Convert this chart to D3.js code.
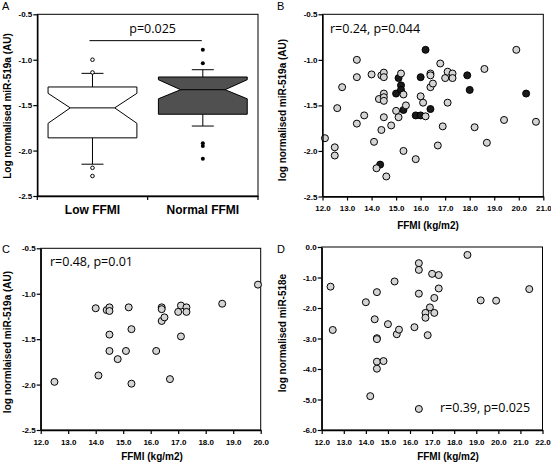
<!DOCTYPE html>
<html><head><meta charset="utf-8">
<script src="https://cdn.jsdelivr.net/npm/d3@7"></script>
<style>body{margin:0;background:#fff} svg{display:block}</style>
</head><body><svg id="c" width="551" height="463"></svg>
<script>
// ---------- Panel A data (box plot) ----------
const boxCategories = ["Low FFMI", "Normal FFMI"];
const boxQ3 = [-1.30, -1.19];
const boxQ1 = [-1.86, -1.60];
const boxMedian = [-1.53, -1.33];
const boxNotchHigh = [-1.37, -1.22];
const boxNotchLow = [-1.70, -1.43];
const boxWhiskerHigh = [-1.15, -1.11];
const boxWhiskerLow = [-2.15, -1.73];
const boxOutliersLow = [-1.00, -1.14, -2.19, -2.28];
const boxOutliersNormal = [-0.89, -1.04, -1.92, -1.95, -2.09];
const boxPText = "p=0.025";
const boxPLineValue = -0.79;
const ticks519 = [-0.5, -1.0, -1.5, -2.0, -2.5];

// ---------- Panel B data ----------
const bLightX = [12.1,12.5,12.5,12.6,12.8,13.4,13.4,13.4,13.7,14.0,14.1,14.2,14.3,14.4,14.4,14.5,14.5,14.5,14.5,14.5,14.5,14.6,14.8,15.0,15.1,15.2,15.3,15.4,15.3,15.8,16.0,16.1,16.2,16.4,16.4,16.4,16.5,16.8,16.9,16.7,17.0,17.1,17.1,17.3,17.3,18.2,18.6,18.7,19.4,19.9,20.7];
const bLightY = [-1.86,-1.96,-2.05,-1.53,-1.30,-1.00,-1.19,-1.70,-1.61,-1.16,-1.90,-2.19,-1.43,-1.17,-1.77,-1.14,-1.19,-1.37,-1.41,-1.45,-1.63,-2.28,-1.72,-1.56,-1.63,-1.15,-1.38,-1.50,-2.00,-2.09,-1.40,-1.47,-1.62,-1.15,-1.17,-1.30,-1.26,-1.04,-1.73,-1.94,-1.20,-1.13,-1.47,-1.15,-1.20,-1.74,-1.10,-1.91,-1.66,-0.89,-1.68];
const bDarkX = [14.35,15.0,15.1,15.2,15.2,15.3,15.8,16.0,16.0,16.2,16.4,17.9,18.0,20.3];
const bDarkY = [-2.15,-1.37,-1.20,-1.28,-1.33,-1.55,-1.61,-1.61,-1.19,-0.89,-1.54,-1.17,-1.33,-1.37];
const bXTicks = [12,13,14,15,16,17,18,19,20,21];
const bText = "r=0.24, p=0.044";

// ---------- Panel C data ----------
const cX = [12.5,14.0,14.4,14.5,14.5,14.5,14.5,14.1,14.8,15.1,15.2,15.3,15.3,16.2,16.4,16.4,16.4,16.5,16.7,17.0,17.1,17.3,17.3,17.1,18.6,19.9];
const cY = [-1.97,-1.16,-1.18,-1.15,-1.19,-1.45,-1.63,-1.90,-1.72,-1.63,-1.15,-1.39,-1.99,-1.63,-1.15,-1.17,-1.30,-1.26,-1.94,-1.20,-1.13,-1.15,-1.20,-1.47,-1.11,-0.90];
const cXTicks = [12,13,14,15,16,17,18,19,20];
const cText = "r=0.48, p=0.01";

// ---------- Panel D data ----------
const dX = [12.4,12.5,14.0,14.4,14.5,14.5,14.5,14.5,14.5,14.8,15.0,15.3,15.4,15.5,16.2,16.4,16.4,16.4,16.8,16.9,16.7,16.7,17.1,17.0,17.3,17.1,17.3,18.6,19.2,19.9,21.4,16.4,14.2];
const dY = [-1.30,-2.72,-1.81,-2.37,-1.48,-2.99,-3.02,-3.76,-3.99,-3.74,-2.53,-1.13,-2.86,-2.71,-2.63,-0.53,-0.75,-1.53,-2.89,-1.98,-2.16,-2.32,-2.16,-0.88,-0.92,-1.67,-1.36,-0.26,-1.75,-1.76,-1.38,-5.31,-4.89];
const dXTicks = [12,13,14,15,16,17,18,19,20,21,22];
const dYTicks = [0,-1,-2,-3,-4,-5,-6];
const dText = "r=0.39, p=0.025";

// ---------- Drawing ----------
const svg = d3.select("#c");
const BOLD = "'Liberation Sans', Arial, sans-serif";
const ANN = "'Open Sans', sans-serif";
const fmt = d => d.toFixed(1);

function frame(g, x0, x1, y0, y1) {
  g.append("rect").attr("x", x0).attr("y", y0).attr("width", x1 - x0).attr("height", y1 - y0)
    .attr("fill", "none").attr("stroke", "#000").attr("stroke-width", 1);
}
function styleAxis(a) {
  a.selectAll("path.domain").attr("stroke", "#000").attr("stroke-width", 1.4);
  a.selectAll(".tick line").attr("stroke", "#000").attr("stroke-width", 1.2);
  a.selectAll(".tick text").attr("font-family", BOLD).attr("font-weight", "bold").attr("font-size", 8).attr("fill", "#000");
}
function yAxis(g, y, x0, ticks) {
  const a = g.append("g").attr("transform", `translate(${x0},0)`)
    .call(d3.axisLeft(y).tickValues(ticks).tickFormat(fmt).tickSize(4).tickSizeOuter(0).tickPadding(1));
  styleAxis(a);
}
function xAxis(g, x, y1, ticks) {
  const a = g.append("g").attr("transform", `translate(0,${y1})`)
    .call(d3.axisBottom(x).tickValues(ticks).tickFormat(fmt).tickSize(4).tickSizeOuter(0).tickPadding(5));
  styleAxis(a);
}
function yTitle(g, text, x, yc) {
  g.append("text").attr("transform", `translate(${x},${yc}) rotate(-90)`).attr("text-anchor", "middle")
    .attr("font-family", BOLD).attr("font-weight", "bold").attr("font-size", 10).text(text);
}
function xTitle(g, text, xc, y) {
  g.append("text").attr("x", xc).attr("y", y).attr("text-anchor", "middle")
    .attr("font-family", BOLD).attr("font-weight", "bold").attr("font-size", 10).text(text);
}
function letter(text, x, y) {
  svg.append("text").attr("x", x).attr("y", y).attr("font-family", BOLD).attr("font-size", 11).text(text);
}
function ann(g, text, x, y) {
  g.append("text").attr("x", x).attr("y", y).attr("font-family", ANN).attr("font-size", 12.5).text(text);
}
function dots(g, xs, ys, x, y, fill) {
  g.append("g").selectAll("circle").data(xs.map((v, i) => [v, ys[i]])).join("circle")
    .attr("cx", d => x(d[0])).attr("cy", d => y(d[1])).attr("r", 3.5)
    .attr("fill", fill).attr("stroke", "#000").attr("stroke-width", 1);
}

// ----- Panel A -----
{
  const P = {x0: 37.3, x1: 258, y0: 14.3, y1: 196};
  const g = svg.append("g");
  const x = d3.scaleBand().domain(boxCategories).range([P.x0, P.x1]);
  const y = d3.scaleLinear().domain([-2.5, -0.5]).range([P.y1, P.y0]);
  frame(g, P.x0, P.x1, P.y0, P.y1);
  const bw = x.bandwidth() * 0.805, inset = bw * 0.25, cap = 11;
  const fills = ["#ffffff", "#505050"];
  boxCategories.forEach((c, i) => {
    const cx = x(c) + x.bandwidth() / 2, l = cx - bw / 2, r = cx + bw / 2;
    g.append("line").attr("x1", cx).attr("x2", cx).attr("y1", y(boxWhiskerHigh[i])).attr("y2", y(boxQ3[i])).attr("stroke", "#000");
    g.append("line").attr("x1", cx).attr("x2", cx).attr("y1", y(boxQ1[i])).attr("y2", y(boxWhiskerLow[i])).attr("stroke", "#000");
    g.append("line").attr("x1", cx - cap).attr("x2", cx + cap).attr("y1", y(boxWhiskerHigh[i])).attr("y2", y(boxWhiskerHigh[i])).attr("stroke", "#000");
    g.append("line").attr("x1", cx - cap).attr("x2", cx + cap).attr("y1", y(boxWhiskerLow[i])).attr("y2", y(boxWhiskerLow[i])).attr("stroke", "#000");
    const pts = [[l, y(boxQ3[i])], [r, y(boxQ3[i])], [r, y(boxNotchHigh[i])], [r - inset, y(boxMedian[i])],
      [r, y(boxNotchLow[i])], [r, y(boxQ1[i])], [l, y(boxQ1[i])], [l, y(boxNotchLow[i])],
      [l + inset, y(boxMedian[i])], [l, y(boxNotchHigh[i])]];
    g.append("path").attr("d", d3.line()(pts) + "Z").attr("fill", fills[i]).attr("stroke", "#000").attr("stroke-width", 1);
    g.append("line").attr("x1", l + inset).attr("x2", r - inset).attr("y1", y(boxMedian[i])).attr("y2", y(boxMedian[i])).attr("stroke", "#000");
  });
  const cL = x(boxCategories[0]) + x.bandwidth() / 2, cN = x(boxCategories[1]) + x.bandwidth() / 2;
  g.selectAll("circle.lo").data(boxOutliersLow).join("circle").attr("cx", cL).attr("cy", d => y(d)).attr("r", 1.8)
    .attr("fill", "#fff").attr("stroke", "#000").attr("stroke-width", 1);
  g.selectAll("circle.no").data(boxOutliersNormal).join("circle").attr("cx", cN).attr("cy", d => y(d)).attr("r", 2)
    .attr("fill", "#000");
  g.append("line").attr("x1", cL - 3).attr("x2", cN - 1).attr("y1", y(boxPLineValue)).attr("y2", y(boxPLineValue)).attr("stroke", "#000");
  g.append("text").attr("x", (cL + cN) / 2 + 5).attr("y", 32.5).attr("text-anchor", "middle")
    .attr("font-family", ANN).attr("font-size", 12.5).text(boxPText);
  yAxis(g, y, P.x0, ticks519);
  const xa = g.append("g").attr("transform", `translate(0,${P.y1})`)
    .call(d3.axisBottom(x).tickSize(0).tickPadding(9));
  styleAxis(xa);
  xa.selectAll(".tick text").attr("font-size", 12);
  [P.x0, (P.x0 + P.x1) / 2, P.x1].forEach(t => g.append("line").attr("x1", t).attr("x2", t).attr("y1", P.y1).attr("y2", P.y1 + 4).attr("stroke", "#000").attr("stroke-width", 1.2));
  yTitle(g, "Log normalised miR-519a (AU)", 10.5, 106);
  letter("A", 2, 10);
}

// ----- Panel B -----
{
  const P = {x0: 322.5, x1: 543.3, y0: 14.3, y1: 196.5};
  const g = svg.append("g");
  const x = d3.scaleLinear().domain([12, 21]).range([P.x0, P.x1]);
  const y = d3.scaleLinear().domain([-2.5, -0.5]).range([P.y1, P.y0]);
  frame(g, P.x0, P.x1, P.y0, P.y1);
  dots(g, bDarkX, bDarkY, x, y, "#1a1a1a");
  dots(g, bLightX, bLightY, x, y, "#d4d4d4");
  yAxis(g, y, P.x0, ticks519);
  xAxis(g, x, P.y1, bXTicks);
  yTitle(g, "log normalised miR-519a (AU)", 285.5, 110);
  xTitle(g, "FFMI (kg/m2)", 428, 228.5);
  ann(g, bText, 330, 32.5);
  letter("B", 277, 10);
}

// ----- Panel C -----
{
  const P = {x0: 40.7, x1: 260.7, y0: 248.3, y1: 430};
  const g = svg.append("g");
  const x = d3.scaleLinear().domain([12, 20]).range([P.x0, P.x1]);
  const y = d3.scaleLinear().domain([-2.5, -0.5]).range([P.y1, P.y0]);
  frame(g, P.x0, P.x1, P.y0, P.y1);
  dots(g, cX, cY, x, y, "#d4d4d4");
  yAxis(g, y, P.x0, ticks519);
  xAxis(g, x, P.y1, cXTicks);
  yTitle(g, "log normlaised miR-519a (AU)", 10.5, 342);
  xTitle(g, "FFMI (kg/m2)", 152, 460);
  ann(g, cText, 50, 265.5);
  letter("C", 2, 253);
}

// ----- Panel D -----
{
  const P = {x0: 321.7, x1: 542.5, y0: 247, y1: 430};
  const g = svg.append("g");
  const x = d3.scaleLinear().domain([12, 22]).range([P.x0, P.x1]);
  const y = d3.scaleLinear().domain([-6, 0]).range([P.y1, P.y0]);
  frame(g, P.x0, P.x1, P.y0, P.y1);
  dots(g, dX, dY, x, y, "#d4d4d4");
  yAxis(g, y, P.x0, dYTicks);
  xAxis(g, x, P.y1, dXTicks);
  yTitle(g, "log normalised miR-518e", 285.5, 333);
  xTitle(g, "FFMI (kg/m2)", 448, 460);
  ann(g, dText, 440, 412);
  letter("D", 277, 253);
}
</script></body></html>
